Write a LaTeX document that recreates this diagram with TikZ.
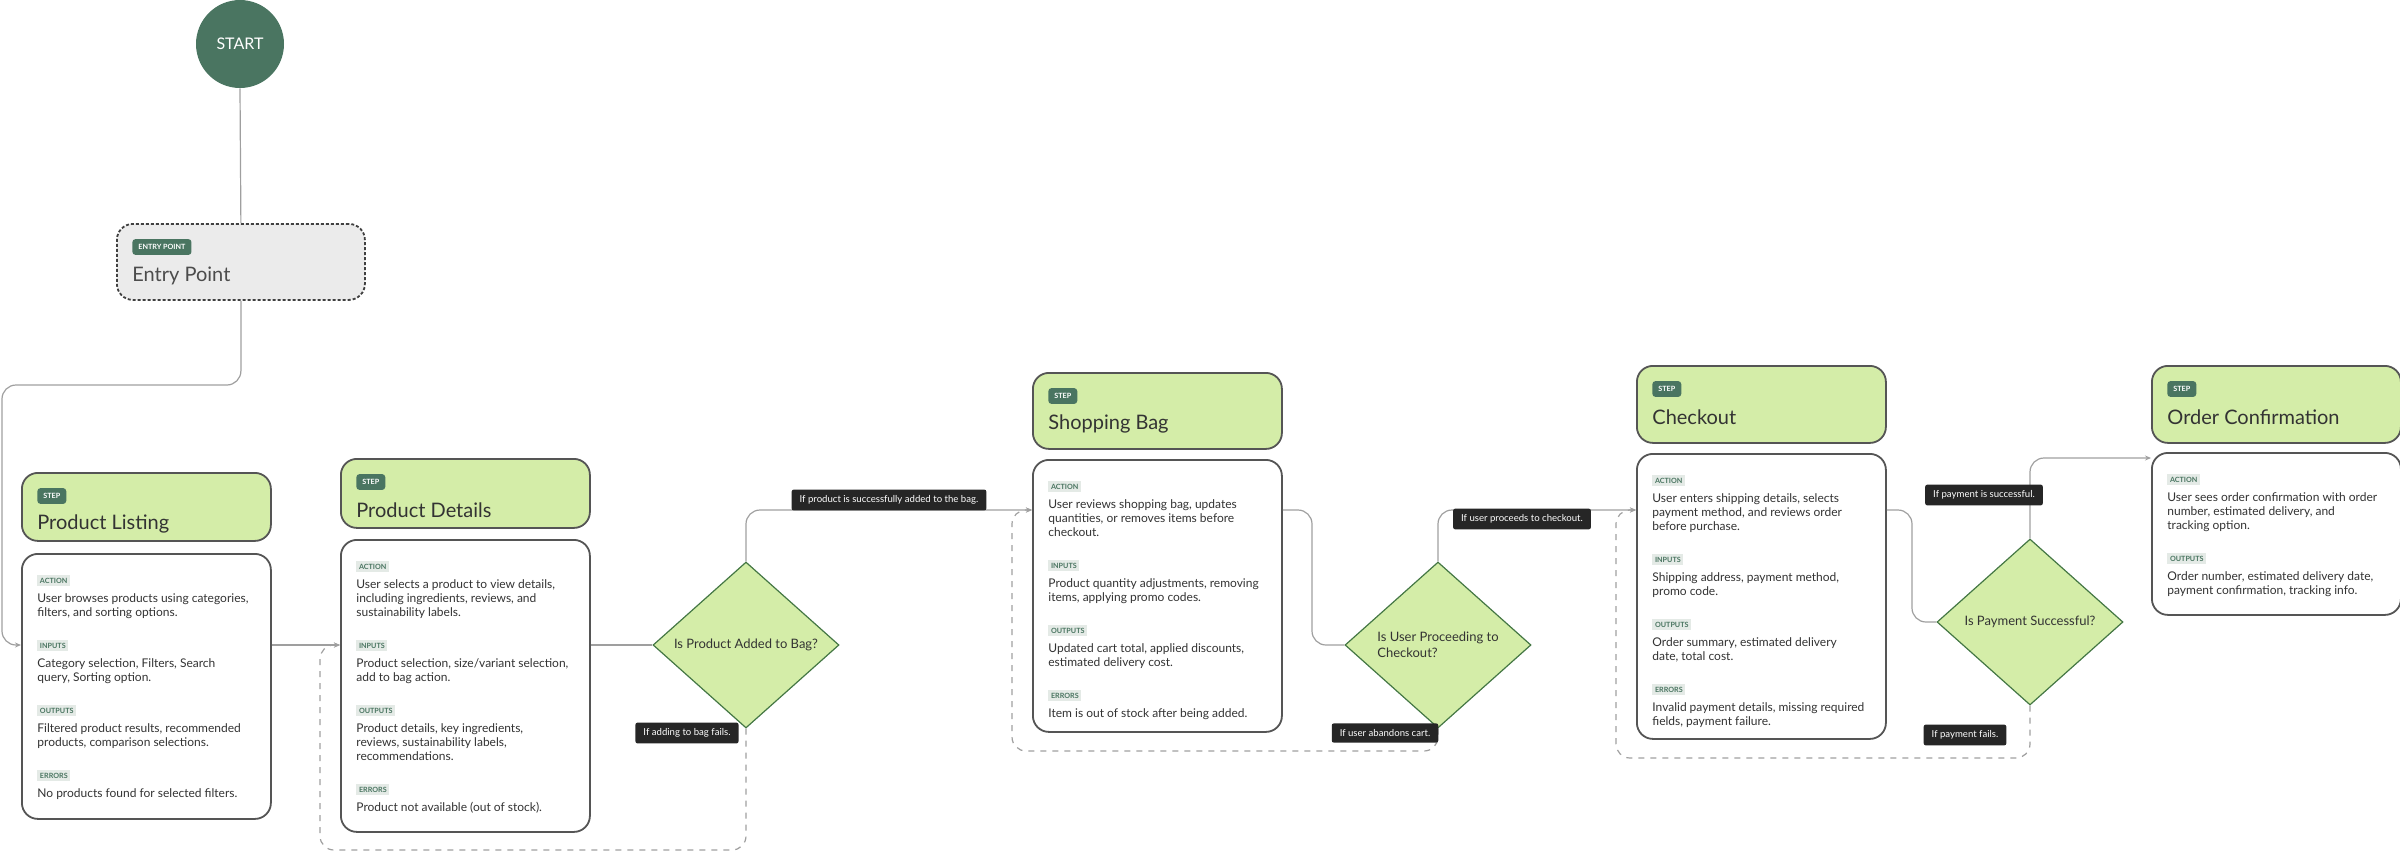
\documentclass[tikz,border=0pt]{standalone}
\usepackage{fontspec}
\setmainfont{Lato}
\usetikzlibrary{shapes.geometric,arrows.meta,calc}
\definecolor{dk}{HTML}{4A7561}
\definecolor{hg}{HTML}{D4EDA8}
\definecolor{bd}{HTML}{555555}
\definecolor{sb}{HTML}{E4EAE6}
\definecolor{lb}{HTML}{262626}
\newcommand\nohy{\hyphenpenalty=10000\relax\exhyphenpenalty=10000\relax}
\newcommand\mysec[2]{{\setlength{\fboxsep}{1.3pt}\colorbox{sb}{\textcolor{dk}{\fontsize{3.6}{4}\selectfont\bfseries #1}}}\par\vspace{2.5pt}{#2}\par\vspace{9pt}}
\begin{document}
\begin{tikzpicture}[x=0.5pt,y=-0.5pt,
 hdr/.style={draw=bd,line width=0.9pt,fill=hg,rounded corners=8pt,anchor=north west,inner sep=0,minimum width=124.5pt},
 card/.style={draw=bd,line width=0.9pt,fill=white,rounded corners=8pt,anchor=north west,inner sep=0,minimum width=124.5pt},
 badge/.style={fill=dk,text=white,font=\fontsize{3.6}{4}\selectfont\bfseries,rounded corners=1.5pt,inner xsep=3pt,inner ysep=2.6pt,anchor=west},
 ttl/.style={font=\fontsize{10}{12}\selectfont,text=black!80,anchor=west,inner sep=0},
 body/.style={text width=106pt,align=flush left,font=\fontsize{6}{7}\selectfont\nohy,text=black!80,anchor=north west,inner sep=0},
 dec/.style={diamond,aspect=1.12,draw=bd!80!green,line width=0.6pt,fill=hg,minimum width=93pt,minimum height=83pt,inner sep=0,align=left,font=\fontsize{6.5}{8}\selectfont,text=black!80},
 lbl/.style={fill=lb,text=white,font=\fontsize{4.8}{5.5}\selectfont,rounded corners=1pt,inner xsep=4pt,inner ysep=3pt},
 conn/.style={draw=gray!75,line width=0.6pt,rounded corners=7pt},
 arr/.style={-{Stealth[length=3pt,width=2.5pt]}},
 dsh/.style={dash pattern=on 3pt off 3pt}]
\useasboundingbox (0,0) rectangle (2400,853);
\coordinate (y510) at (0,510);
\coordinate (y458) at (0,458);
\coordinate (y645) at (0,645);
% start
\node[circle,fill=dk,minimum size=44pt,inner sep=0,text=white,font=\fontsize{8}{9}\selectfont] (start) at (240,44) {START};
% entry
\node[draw=black!75,line width=0.9pt,dash pattern=on 1.5pt off 1pt,fill=black!8,rounded corners=8pt,anchor=north west,inner sep=0,minimum width=124pt,minimum height=38pt] (entry) at (116,223) {};
\node[badge] (eb) at ($(entry.north west)+(16,24)$) {ENTRY POINT};
\node[ttl,text=black!70] (et) at ($(entry.north west)+(16,53)$) {Entry Point};
% headers
\node[hdr,minimum height=34pt] (h1) at (21,472) {};
\node[hdr,minimum height=34.5pt] (h2) at (340,458) {};
\node[hdr,minimum height=38pt] (h3) at (1032,372) {};
\node[hdr,minimum height=38.5pt] (h4) at (1636,365) {};
\node[hdr,minimum height=38.5pt] (h5) at (2151,365) {};
\foreach \h/\t/\n in {h1/Product Listing/1,h2/Product Details/2,h3/Shopping Bag/3,h4/Checkout/4,h5/Order Confirmation/5}{
  \node[badge] (sb\n) at ($(\h.north west)+(16,24)$) {STEP};
  \node[ttl] (st\n) at ($(\h.north west)+(16,52)$) {\t};
}
% cards
\node[card,minimum height=132.5pt] (c1) at (21,553) {};
\node[card,minimum height=146pt] (c2) at (340,539) {};
\node[card,minimum height=136pt] (c3) at (1032,459) {};
\node[card,minimum height=142.5pt] (c4) at (1636,453) {};
\node[card,minimum height=81pt] (c5) at (2151,452) {};
\node[body] (t1) at ($(c1.north west)+(16,22)$) {%
\mysec{ACTION}{User browses products using categories, filters, and sorting options.}
\mysec{INPUTS}{Category selection, Filters, Search\\query, Sorting option.}
\mysec{OUTPUTS}{Filtered product results, recommended products, comparison selections.}
\mysec{ERRORS}{No products found for selected filters.}};
\node[body] (t2) at ($(c2.north west)+(16,22)$) {%
\mysec{ACTION}{User selects a product to view details, including ingredients, reviews, and sustainability labels.}
\mysec{INPUTS}{Product selection, size/variant selection, add to bag action.}
\mysec{OUTPUTS}{Product details, key ingredients,\\reviews, sustainability labels,\\recommendations.}
\mysec{ERRORS}{Product not available (out of stock).}};
\node[body] (t3) at ($(c3.north west)+(16,22)$) {%
\mysec{ACTION}{User reviews shopping bag, updates quantities, or removes items before checkout.}
\mysec{INPUTS}{Product quantity adjustments, removing items, applying promo codes.}
\mysec{OUTPUTS}{Updated cart total, applied discounts, estimated delivery cost.}
\mysec{ERRORS}{Item is out of stock after being added.}};
\node[body] (t4) at ($(c4.north west)+(16,22)$) {%
\mysec{ACTION}{User enters shipping details, selects\\payment method, and reviews order\\before purchase.}
\mysec{INPUTS}{Shipping address, payment method,\\promo code.}
\mysec{OUTPUTS}{Order summary, estimated delivery date, total cost.}
\mysec{ERRORS}{Invalid payment details, missing required fields, payment failure.}};
\node[body] (t5) at ($(c5.north west)+(16,22)$) {%
\mysec{ACTION}{User sees order confirmation with order number, estimated delivery, and tracking option.}
\mysec{OUTPUTS}{Order number, estimated delivery date, payment confirmation, tracking info.}};
% decisions
\node[dec] (d1) at (746,645) {Is Product Added to Bag?};
\node[dec] (d2) at (1438,645) {Is User Proceeding to\\Checkout?};
\node[dec] (d3) at (2030,622) {Is Payment Successful?};
% connectors
\draw[conn] (start.south) -- (entry.north);
\draw[conn,arr] (entry.south) |- (2,385) |- (c1.west |- y645);
\draw[conn,arr] (c1.east |- y645) -- (c2.west |- y645);
\draw[conn] (c2.east |- y645) -- (d1.west);
\draw[conn,arr] (d1.north) |- (c3.west |- y510);
\draw[conn,dsh,arr] (d1.south) |- (320,850) |- (c2.west |- y645);
\draw[conn] (c3.east |- y510) -- (1312,510) |- (d2.west);
\draw[conn,arr] (d2.north) |- (c4.west |- y510);
\draw[conn,dsh,arr] (d2.south) |- (1012,751) |- (c3.west |- y510);
\draw[conn] (c4.east |- y510) -- (1912,510) |- (d3.west);
\draw[conn,arr] (d3.north) |- (c5.west |- y458);
\draw[conn,dsh,arr] (d3.south) |- (1616,758) |- (c4.west |- y510);
% labels
\node[lbl] (l1) at (889,500) {If product is successfully added to the bag.};
\node[lbl] (l2) at (687,733) {If adding to bag fails.};
\node[lbl] (l3) at (1522,519) {If user proceeds to checkout.};
\node[lbl] (l4) at (1385,733) {If user abandons cart.};
\node[lbl] (l5) at (1984,495) {If payment is successful.};
\node[lbl] (l6) at (1965,735) {If payment fails.};
\end{tikzpicture}
\end{document}
